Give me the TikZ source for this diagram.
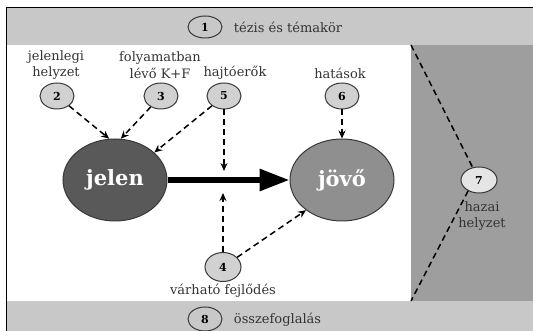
\documentclass[tikz,border=0pt]{standalone}
\usepackage{fontspec}
\setmainfont{DejaVu Serif}
\usepackage{tikz}
\usetikzlibrary{arrows.meta,shapes.geometric}
\definecolor{bandgray}{rgb}{0.784,0.784,0.784}
\definecolor{sidegray}{rgb}{0.62,0.62,0.62}
\definecolor{nowgray}{rgb}{0.35,0.35,0.35}
\definecolor{futgray}{rgb}{0.56,0.56,0.56}
\definecolor{numgray}{rgb}{0.82,0.82,0.82}
\definecolor{lightnum}{rgb}{0.9,0.9,0.9}
\definecolor{edgegray}{rgb}{0.22,0.22,0.22}
\definecolor{textgray}{rgb}{0.2,0.2,0.2}

\begin{document}
\begin{tikzpicture}[x=1pt,y=1pt,yscale=-1,
  numcirc/.style={ellipse,draw=edgegray,line width=1pt,fill=numgray,minimum width=34pt,minimum height=26pt,inner sep=0pt,font=\fontsize{11}{12}\selectfont\bfseries},
  labtext/.style={align=center,inner sep=0.75pt,text=textgray,font=\fontsize{13}{16.5}\selectfont},
  bigell/.style={ellipse,draw=edgegray,line width=1pt,minimum width=104pt,minimum height=82pt,inner sep=0pt,text=white,font=\fontsize{21}{23}\selectfont\bfseries},
  dasharr/.style={dash pattern=on 6pt off 4pt,line width=1.5pt,-{Stealth[length=8pt,width=7pt]}}]
\useasboundingbox (0,0) rectangle (533,331);

%Shape: Rectangle [top band]
\fill[bandgray] (6,7) rectangle (533,45);
%Shape: Rectangle [side region]
\fill[sidegray] (411,45) rectangle (533,301);
%Shape: Rectangle [bottom band]
\fill[bandgray] (6,301) rectangle (533,331);
%Straight Lines [frame]
\draw[line width=0.8pt] (6,331) -- (6,7) -- (533,7);

%Shape: Ellipse [jelen]
\node[bigell,fill=nowgray] (jelen) at (115,180) {jelen};
%Shape: Ellipse [jovo]
\node[bigell,fill=futgray] (jovo) at (342,180) {jövő};

%Shape: Circle [numbers]
\node[numcirc,fill=bandgray,minimum height=22pt] (c1) at (205,27) {1};
\node[numcirc] (c2) at (57,96) {2};
\node[numcirc] (c3) at (161,96) {3};
\node[numcirc] (c5) at (224,96) {5};
\node[numcirc] (c6) at (342,96) {6};
\node[numcirc,minimum width=36pt,minimum height=29pt] (c4) at (223,267) {4};
\node[numcirc,fill=lightnum,minimum width=36pt] (c7) at (479,180) {7};
\node[numcirc,fill=bandgray,minimum height=24pt] (c8) at (205,319) {8};

% Text Node
\node[labtext,anchor=west] (t1) at (233,27) {tézis és témakör};
% Text Node
\node[labtext] (t2) at (56,65) {jelenlegi\\helyzet};
% Text Node
\node[labtext] (t3) at (160,65) {folyamatban\\lévő K+F};
% Text Node
\node[labtext] (t5) at (235,73) {hajtóerők};
% Text Node
\node[labtext] (t6) at (340,73) {hatások};
% Text Node
\node[labtext] (t4) at (223,291) {várható fejlődés};
% Text Node
\node[labtext] (t7) at (482,216) {hazai\\helyzet};
% Text Node
\node[labtext,anchor=west] (t8) at (233,320) {összefoglalás};

\coordinate (end5) at (224,171);
\coordinate (end4) at (223,193);
\coordinate (sidetop) at (411,45);
\coordinate (sidebot) at (411,301);

%Straight Lines [main arrow]
\draw[line width=6pt,-{Triangle[length=30pt,width=21pt]}] (jelen) -- (jovo);
%Straight Lines [dashed]
\draw[dasharr] (c2) -- (jelen.98);
\draw[dasharr] (c3) -- (jelen.82);
\draw[dasharr] (c5) -- (jelen.35);
\draw[dasharr] (c5) -- (end5);
\draw[dasharr] (c4) -- (end4);
\draw[dasharr] (c4) -- (jovo.220);
\draw[dasharr] (c6) -- (jovo.north);
\draw[dash pattern=on 6pt off 4pt,line width=1.5pt] (sidetop) -- (c7);
\draw[dash pattern=on 6pt off 4pt,line width=1.5pt] (c7.225) -- (sidebot);
\end{tikzpicture}
\end{document}
